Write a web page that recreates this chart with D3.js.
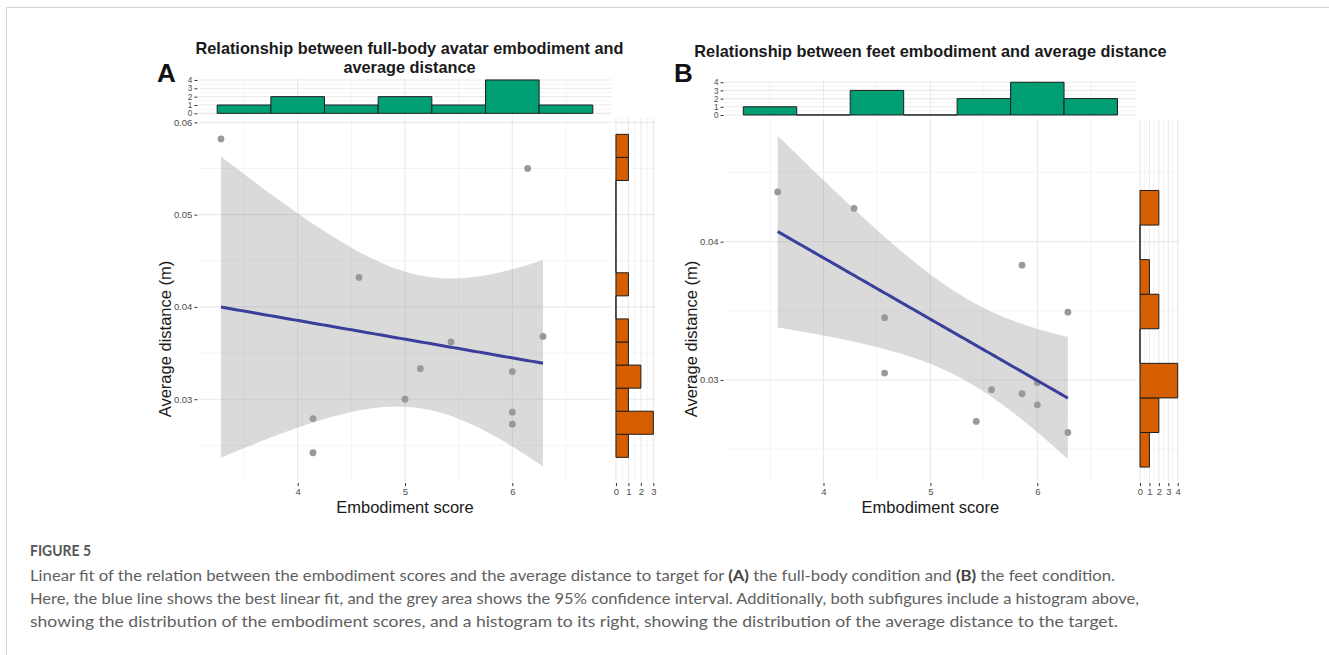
<!DOCTYPE html>
<html>
<head>
<meta charset="utf-8">
<script src="https://cdn.jsdelivr.net/npm/d3@7"></script>
<style>
  body { margin: 0; background: #fff; }
  svg { display: block; }
</style>
</head>
<body>
<svg id="fig" width="1329" height="655"></svg>
<script>
// ---- data ----
// (A) full-body condition: embodiment score vs average distance (m)
var scoreA = [23/7, 29/7, 29/7, 32/7, 5, 36/7, 38/7, 6, 6, 6, 43/7, 44/7];
var distA  = [0.0582, 0.0279, 0.0242, 0.0432, 0.0300, 0.0333, 0.0362, 0.0330, 0.0286, 0.0273, 0.0550, 0.0368];
// (B) feet condition
var scoreB = [25/7, 30/7, 32/7, 32/7, 38/7, 39/7, 41/7, 41/7, 6, 6, 44/7, 44/7];
var distB  = [0.0436, 0.0424, 0.0345, 0.0305, 0.0270, 0.0293, 0.0383, 0.0290, 0.0298, 0.0282, 0.0349, 0.0262];

// marginal histograms (counts per bin)
var scoreBinStart = 3.25, scoreBinWidth = 0.5;
var scoreCountsA = [1, 2, 1, 2, 1, 4, 1];
var scoreCountsB = [1, 0, 3, 0, 2, 4, 2];
var distBinWidth = 0.0025;
var distBinStartA = 0.0237, distCountsA = [1, 3, 1, 2, 1, 1, 0, 1, 0, 0, 0, 0, 1, 1];
var distBinStartB = 0.0237, distCountsB = [1, 2, 4, 0, 2, 1, 0, 2];

// tick labels
var xTicks = [4, 5, 6];
var xMinor = [3.5, 4.5, 5.5, 6.5];
var yTicksA = [0.03, 0.04, 0.05, 0.06];
var yMinorA = [0.025, 0.035, 0.045, 0.055];
var yTicksB = [0.03, 0.04];
var yMinorB = [0.025, 0.035, 0.045];
var countTicksTop = [0, 1, 2, 3, 4];
var countTicksRightA = [0, 1, 2, 3];
var countTicksRightB = [0, 1, 2, 3, 4];

var titleA = ["Relationship between full-body avatar embodiment and", "average distance"];
var titleB = ["Relationship between feet embodiment and average distance"];

var svg = d3.select("#fig");
var FONT = "'Liberation Sans', Arial, sans-serif";

// frame of the figure box
svg.append("path")
  .attr("d", "M6.5,655 V7.5 H1329")
  .attr("fill", "none").attr("stroke", "#d4d4d4").attr("stroke-width", 1);

function grid(g, dir, vals, scale, a, b, major) {
  g.selectAll(null).data(vals).enter().append("line")
    .attr(dir == "v" ? "x1" : "y1", d => scale(d))
    .attr(dir == "v" ? "x2" : "y2", d => scale(d))
    .attr(dir == "v" ? "y1" : "x1", a)
    .attr(dir == "v" ? "y2" : "x2", b)
    .attr("stroke", major ? "#e9e9e9" : "#f1f1f1")
    .attr("stroke-width", major ? 1.1 : 0.8);
}

function styleAxis(ax, size) {
  ax.attr("font-family", FONT).attr("font-size", size || 9.5);
  ax.select(".domain").remove();
  ax.selectAll(".tick line").attr("stroke", "#333");
  ax.selectAll(".tick text").attr("fill", "#4d4d4d");
}

// linear fit with 95% band, same as geom_smooth(method = "lm")
function lmBand(xs, ys) {
  var mx = d3.mean(xs), my = d3.mean(ys);
  var sxx = d3.sum(xs, v => (v - mx) * (v - mx));
  var sxy = d3.sum(xs, (v, i) => (v - mx) * (ys[i] - my));
  var b = sxy / sxx, a = my - b * mx;
  var sse = d3.sum(xs, (v, i) => Math.pow(ys[i] - (a + b * v), 2));
  var s = Math.sqrt(sse / (xs.length - 2));
  var t = 2.228; // qt(0.975, df = 10)
  var lo = d3.min(xs), hi = d3.max(xs);
  return d3.range(80).map(function(i) {
    var xv = lo + (hi - lo) * i / 79;
    var fit = a + b * xv;
    var se = s * Math.sqrt(1 / xs.length + (xv - mx) * (xv - mx) / sxx);
    return {x: xv, fit: fit, lo: fit - t * se, hi: fit + t * se};
  });
}

function drawPanel(p) {
  var g = svg.append("g");
  var x = d3.scaleLinear().domain([3.075, 6.925]).range([p.left, p.right]);
  var y = d3.scaleLinear().domain(p.yDomain).range([p.bottom, p.top]);
  var cTop = d3.scaleLinear().domain([-0.2, 4.2]).range(p.topRange);
  var cRight = d3.scaleLinear().domain(p.rightDomain).range(p.rightRange);

  // grids: main panel
  grid(g, "v", xMinor, x, p.top, p.bottom, false);
  grid(g, "h", p.yMinor, y, p.left, p.right, false);
  grid(g, "v", xTicks, x, p.top, p.bottom, true);
  grid(g, "h", p.yTicks, y, p.left, p.right, true);
  // top histogram panel
  grid(g, "v", xMinor, x, p.topRange[1], p.topRange[0], false);
  grid(g, "h", [0.5, 1.5, 2.5, 3.5], cTop, p.left, p.right, false);
  grid(g, "v", xTicks, x, p.topRange[1], p.topRange[0], true);
  grid(g, "h", countTicksTop, cTop, p.left, p.right, true);
  // right histogram panel
  var rMinor = p.rightTicks.slice(1).map(d => d - 0.5);
  grid(g, "v", rMinor, cRight, p.top, p.bottom, false);
  grid(g, "h", p.yMinor, y, p.rightRange[0], p.rightRange[1], false);
  grid(g, "v", p.rightTicks, cRight, p.top, p.bottom, true);
  grid(g, "h", p.yTicks, y, p.rightRange[0], p.rightRange[1], true);

  // confidence band + fit
  var band = lmBand(p.xs, p.ys);
  g.append("path").datum(band)
    .attr("d", d3.area().x(d => x(d.x)).y0(d => y(d.lo)).y1(d => y(d.hi)))
    .attr("fill", "#999").attr("fill-opacity", 0.36);

  // points
  g.selectAll(null).data(p.xs).enter().append("circle")
    .attr("cx", d => x(d))
    .attr("cy", (d, i) => y(p.ys[i]))
    .attr("r", 3.4)
    .attr("fill", "#999999");

  g.append("path").datum(band)
    .attr("d", d3.line().x(d => x(d.x)).y(d => y(d.fit)))
    .attr("fill", "none").attr("stroke", "#3a3f9c").attr("stroke-width", 3);

  // top histogram (paths so that empty bins still show their outline)
  g.selectAll(null).data(p.topCounts).enter().append("path")
    .attr("d", function(c, i) {
      var x0 = x(scoreBinStart + i * scoreBinWidth), x1 = x(scoreBinStart + (i + 1) * scoreBinWidth);
      return "M" + x0 + "," + cTop(0) + "V" + cTop(c) + "H" + x1 + "V" + cTop(0) + "Z";
    })
    .attr("fill", "#009E73").attr("stroke", "#1e1e1e").attr("stroke-width", 1);

  // right histogram
  g.selectAll(null).data(p.rightCounts).enter().append("path")
    .attr("d", function(c, i) {
      var y0 = y(p.distStart + i * distBinWidth), y1 = y(p.distStart + (i + 1) * distBinWidth);
      return "M" + cRight(0) + "," + y0 + "H" + cRight(c) + "V" + y1 + "H" + cRight(0) + "Z";
    })
    .attr("fill", "#D55E00").attr("stroke", "#1e1e1e").attr("stroke-width", 1);

  // axes
  styleAxis(g.append("g").attr("transform", "translate(" + (p.left - 1) + ",0)")
    .call(d3.axisLeft(y).tickValues(p.yTicks).tickFormat(d3.format(".2f")).tickSize(3).tickPadding(2)));
  styleAxis(g.append("g").attr("transform", "translate(" + (p.left - 1) + ",0)")
    .call(d3.axisLeft(cTop).tickValues(countTicksTop).tickFormat(d3.format("d")).tickSize(3).tickPadding(2)), 8.2);
  styleAxis(g.append("g").attr("transform", "translate(0," + (p.bottom + 1) + ")")
    .call(d3.axisBottom(x).tickValues(xTicks).tickFormat(d3.format("d")).tickSize(3).tickPadding(2)));
  styleAxis(g.append("g").attr("transform", "translate(0," + (p.bottom + 1) + ")")
    .call(d3.axisBottom(cRight).tickValues(p.rightTicks).tickFormat(d3.format("d")).tickSize(3).tickPadding(2)));

  // axis titles
  g.append("text")
    .attr("x", (p.left + p.right) / 2).attr("y", 513)
    .attr("text-anchor", "middle")
    .attr("font-family", FONT).attr("font-size", 16.5).attr("fill", "#1a1a1a")
    .text("Embodiment score");
  g.append("text")
    .attr("transform", "translate(" + p.yTitleX + ",339) rotate(-90)")
    .attr("text-anchor", "middle")
    .attr("font-family", FONT).attr("font-size", 16.5).attr("fill", "#1a1a1a")
    .text("Average distance (m)");

  // plot title + panel letter
  g.selectAll(null).data(p.title).enter().append("text")
    .attr("x", p.titleX)
    .attr("y", (d, i) => p.titleY + i * 18.5)
    .attr("text-anchor", "middle")
    .attr("font-family", FONT).attr("font-weight", "bold").attr("font-size", 16.3)
    .attr("fill", "#1a1a1a")
    .text(d => d);
  g.append("text")
    .attr("x", p.letterX).attr("y", 82)
    .attr("font-family", FONT).attr("font-weight", "bold").attr("font-size", 26)
    .attr("fill", "#111")
    .text(p.letter);
}

drawPanel({
  letter: "A", letterX: 157, title: titleA, titleX: 409.5, titleY: 54,
  xs: scoreA, ys: distA,
  left: 198.4, right: 611.6, top: 118, bottom: 482,
  yDomain: [0.02103, 0.06047], yTicks: yTicksA, yMinor: yMinorA,
  topRange: [115, 78.3], topCounts: scoreCountsA,
  rightDomain: [-0.15, 3.15], rightRange: [614.1, 655.2], rightTicks: countTicksRightA,
  rightCounts: distCountsA, distStart: distBinStartA,
  yTitleX: 170.7
});

drawPanel({
  letter: "B", letterX: 674, title: titleB, titleX: 930.5, titleY: 56.5,
  xs: scoreB, ys: distB,
  left: 724.6, right: 1136.2, top: 119, bottom: 482,
  yDomain: [0.02262, 0.04887], yTicks: yTicksB, yMinor: yMinorB,
  topRange: [116.6, 80.6], topCounts: scoreCountsB,
  rightDomain: [-0.2, 4.2], rightRange: [1138.1, 1179.6], rightTicks: countTicksRightB,
  rightCounts: distCountsB, distStart: distBinStartB,
  yTitleX: 696.7
});

// ---- caption ----
var capFont = "Lato, 'Open Sans', sans-serif";
var capLines = [
  [["Linear fit of the relation between the embodiment scores and the average distance to target for ", 400], ["(A)", 700],
   [" the full-body condition and ", 400], ["(B)", 700], [" the feet condition.", 400]],
  [["Here, the blue line shows the best linear fit, and the grey area shows the 95% confidence interval. Additionally, both subfigures include a histogram above,", 400]],
  [["showing the distribution of the embodiment scores, and a histogram to its right, showing the distribution of the average distance to the target.", 400]]
];
var capWidths = [1085, 1109, 1088];

svg.append("text")
  .attr("x", 30).attr("y", 556)
  .attr("font-family", capFont).attr("font-weight", 700).attr("font-size", 15.5)
  .attr("fill", "#555").attr("textLength", 61).attr("lengthAdjust", "spacingAndGlyphs")
  .text("FIGURE 5");

capLines.forEach(function(parts, li) {
  var t = svg.append("text")
    .attr("x", 30).attr("y", 581 + li * 23)
    .attr("font-family", capFont).attr("font-size", 15)
    .attr("fill", "#5f5f5f")
    .attr("textLength", capWidths[li]).attr("lengthAdjust", "spacingAndGlyphs");
  parts.forEach(function(pt) {
    t.append("tspan").attr("font-weight", pt[1]).attr("fill", pt[1] == 700 ? "#444" : null).text(pt[0]);
  });
});
</script>
</body>
</html>
